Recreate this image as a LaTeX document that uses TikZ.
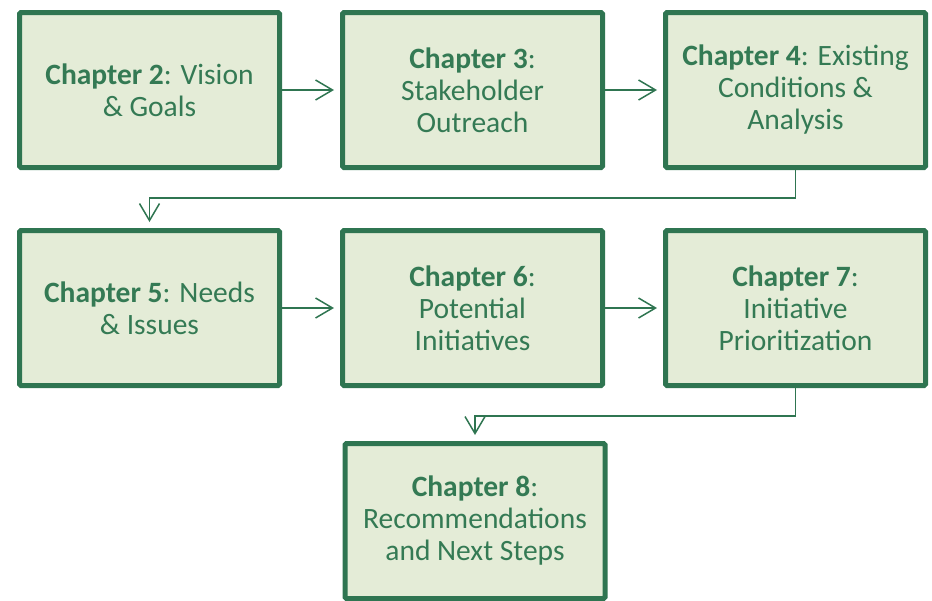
\documentclass[tikz,border=0pt]{standalone}
\usepackage{fontspec}
\setmainfont{Carlito}
\usepackage{tikz}
\usetikzlibrary{arrows.meta,positioning}
\definecolor{chapgreen}{RGB}{47,117,81}
\definecolor{chaptext}{RGB}{52,122,84}
\definecolor{chapfill}{RGB}{228,236,215}
\tikzset{
  chapbox/.style={rectangle,draw=chapgreen,fill=chapfill,line width=5pt,
    rounded corners=1.5pt,minimum width=260pt,minimum height=155pt,
    align=center,text=chaptext,font=\fontsize{29.5}{32}\selectfont},
  link/.style={-{Straight Barb[length=17pt,width=20pt,line width=1.5pt]},
    line width=1.5pt,draw=chapgreen,shorten >=6pt}
}

\begin{document}
\begin{tikzpicture}[node distance=58pt]
  \useasboundingbox (0,0) rectangle (932pt,-600pt);

  % top row
  \node[chapbox] (ch2) at (149.5pt,-90pt)
    {\textbf{Chapter 2}: Vision\\\& Goals};
  \node[chapbox,right=of ch2] (ch3)
    {\textbf{Chapter 3}:\\Stakeholder\\Outreach};
  \node[chapbox,right=of ch3] (ch4)
    {\textbf{Chapter 4}: Existing\\Conditions \&\\Analysis};

  % middle row
  \node[chapbox,below=of ch2] (ch5)
    {\textbf{Chapter 5}: Needs\\\& Issues};
  \node[chapbox,right=of ch5] (ch6)
    {\textbf{Chapter 6}:\\Potential\\Initiatives};
  \node[chapbox,right=of ch6] (ch7)
    {\textbf{Chapter 7}:\\Initiative\\Prioritization};

  % last one, centred under the middle column
  \node[chapbox] (ch8) at (475pt,-521pt)
    {\textbf{Chapter 8}:\\Recommendations\\and Next Steps};

  \draw[link] (ch2) -- (ch3);
  \draw[link] (ch3) -- (ch4);
  \draw[link] (ch4.south) -- ++(0,-28pt) -| (ch5.north);
  \draw[link] (ch5) -- (ch6);
  \draw[link] (ch6) -- (ch7);
  \draw[link] (ch7.south) -- ++(0,-28pt) -| (ch8.north);
\end{tikzpicture}
\end{document}
